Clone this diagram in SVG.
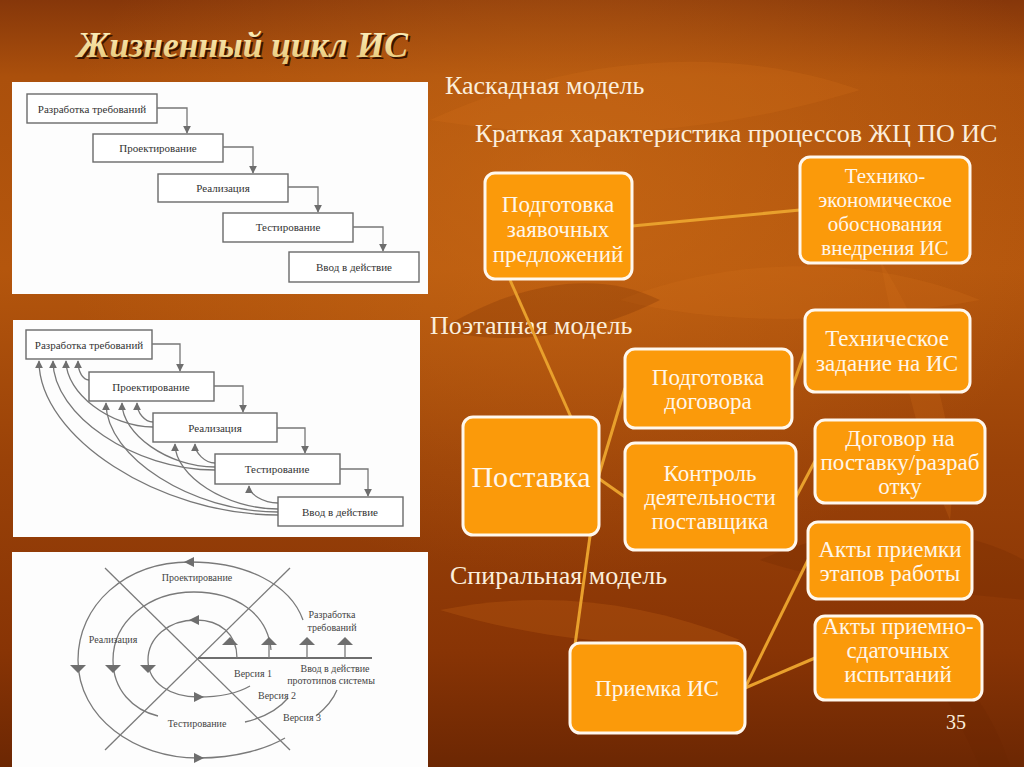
<svg xmlns="http://www.w3.org/2000/svg" width="1024" height="767" viewBox="0 0 1024 767">
<defs>
<linearGradient id="bg" x1="0" y1="0" x2="0" y2="1">
<stop offset="0" stop-color="#86370a"/>
<stop offset="0.1" stop-color="#ab500c"/>
<stop offset="0.35" stop-color="#b4560d"/>
<stop offset="0.6" stop-color="#9a4208"/>
<stop offset="0.85" stop-color="#883405"/>
<stop offset="1" stop-color="#6c2703"/>
</linearGradient>
<radialGradient id="glow" cx="0.55" cy="0.25" r="0.5">
<stop offset="0" stop-color="#d07018" stop-opacity="0.55"/>
<stop offset="1" stop-color="#d07018" stop-opacity="0"/>
</radialGradient>
<linearGradient id="titleg" x1="0" y1="0" x2="0" y2="1">
<stop offset="0" stop-color="#fff6c8"/>
<stop offset="1" stop-color="#e6c470"/>
</linearGradient>
<marker id="ga" viewBox="0 0 10 10" refX="9" refY="5" markerWidth="6" markerHeight="6" orient="auto">
<path d="M0,0 L10,5 L0,10 z" fill="#6e6e6e"/>
</marker>
<style>
text{font-family:"Liberation Serif","Times New Roman",Tinos,"DejaVu Serif","Noto Serif",serif}
.panel{fill:#fdfdfd}
.wbox{fill:#ffffff;stroke:#6a6a6a;stroke-width:1.4}
.wt{font-size:11px;fill:#333;text-anchor:middle}
.st{font-size:10px;fill:#444;text-anchor:middle}
.ga{fill:none;stroke:#777;stroke-width:1.3;marker-end:url(#ga)}
.gl{fill:none;stroke:#7a7a7a;stroke-width:1.3}
.tri{fill:#6e6e6e}
.lbl{font-size:26px;fill:#fbeedc}
.node{fill:#fb9a0a;stroke:#fff8ee;stroke-width:3}
.nt{font-size:23px;fill:#fff6ea;text-anchor:middle}
.con{stroke:#e9a02c;stroke-width:3;fill:none}
.leafL{fill:#d4741c;opacity:0.22}
.leafD{fill:#6a2400;opacity:0.22}
.ttl{font-size:36px;font-weight:bold;font-style:italic}
</style>
</defs>

<!-- background -->
<rect x="0" y="0" width="1024" height="767" fill="url(#bg)"/>
<rect x="0" y="0" width="1024" height="767" fill="url(#glow)"/>
<path class="leafL" d="M430,120 C560,60 720,40 860,90 C760,120 620,150 430,120 z"/>
<path class="leafL" d="M620,300 C720,260 860,250 980,300 C870,320 740,330 620,300 z"/>
<path class="leafD" d="M440,330 C520,280 600,270 660,300 C600,330 520,350 440,330 z"/>
<path class="leafL" d="M880,260 C930,340 960,430 950,520 C920,450 900,360 880,260 z"/>
<path class="leafD" d="M760,560 C850,520 950,520 1024,560 L1024,600 C940,590 850,590 760,560 z"/>
<path class="leafL" d="M440,610 C540,590 640,600 740,640 C640,650 540,640 440,610 z"/>
<path class="leafD" d="M900,620 C950,660 990,700 1010,767 L980,767 C960,720 930,670 900,620 z"/>

<!-- title -->
<text class="ttl" x="79" y="59" fill="#3a1400" textLength="331" lengthAdjust="spacingAndGlyphs">Жизненный цикл ИС</text>
<text class="ttl" x="77" y="57" fill="url(#titleg)" textLength="331" lengthAdjust="spacingAndGlyphs">Жизненный цикл ИС</text>

<!-- labels -->
<text class="lbl" x="445" y="94">Каскадная модель</text>
<text class="lbl" x="475" y="142">Краткая характеристика процессов ЖЦ ПО ИС</text>
<text class="lbl" x="430" y="334">Поэтапная модель</text>
<text class="lbl" x="450" y="584">Спиральная модель</text>
<text x="956" y="729" font-size="20" fill="#fbeedc" text-anchor="middle">35</text>

<!-- Waterfall model -->
<g id="waterfall">
<rect class="panel" x="12" y="82" width="416" height="212"/>
<rect class="wbox" x="27" y="94" width="130" height="29"/>
<text class="wt" x="92" y="113">Разработка требований</text>
<rect class="wbox" x="93" y="134" width="130" height="28"/>
<text class="wt" x="158" y="152">Проектирование</text>
<rect class="wbox" x="158" y="174" width="130" height="28"/>
<text class="wt" x="223" y="192">Реализация</text>
<rect class="wbox" x="223" y="213" width="130" height="29"/>
<text class="wt" x="288" y="231">Тестирование</text>
<rect class="wbox" x="289" y="252" width="130" height="30"/>
<text class="wt" x="354" y="271">Ввод в действие</text>
<path class="ga" d="M157,108 H187 V133"/>
<path class="ga" d="M223,147 H253 V173"/>
<path class="ga" d="M288,187 H318 V212"/>
<path class="ga" d="M353,227 H383 V251"/>
</g>

<!-- Incremental model -->
<g id="incremental">
<rect class="panel" x="13" y="320" width="407" height="217"/>
<path class="ga" d="M278,515 C159,515 39,437 39,361"/>
<path class="ga" d="M215,470 C134,470 53,415 53,361"/>
<path class="ga" d="M153,427 C110,427 66,393 66,361"/>
<path class="ga" d="M89,380 C83,380 78,372 78,361"/>
<path class="ga" d="M278,512 C192,512 106,457 106,403"/>
<path class="ga" d="M215,467 C168,467 122,434 122,403"/>
<path class="ga" d="M153,422 C145,422 137,413 137,403"/>
<path class="ga" d="M278,509 C226,509 175,476 175,444"/>
<path class="ga" d="M215,463 C205,463 195,453 195,444"/>
<path class="ga" d="M278,503 C263,503 249,494 249,486"/>
<rect class="wbox" x="26" y="330" width="126" height="29"/>
<text class="wt" x="89" y="349">Разработка требований</text>
<rect class="wbox" x="89" y="372" width="125" height="29"/>
<text class="wt" x="151" y="391">Проектирование</text>
<rect class="wbox" x="153" y="413" width="124" height="29"/>
<text class="wt" x="215" y="432">Реализация</text>
<rect class="wbox" x="215" y="454" width="125" height="30"/>
<text class="wt" x="277" y="473">Тестирование</text>
<rect class="wbox" x="278" y="497" width="125" height="29"/>
<text class="wt" x="340" y="516">Ввод в действие</text>
<path class="ga" d="M152,344 H180 V371"/>
<path class="ga" d="M214,386 H243 V412"/>
<path class="ga" d="M277,428 H305 V453"/>
<path class="ga" d="M340,469 H368 V496"/>
</g>

<!-- Spiral model -->
<g id="spiral">
<rect class="panel" x="12" y="552" width="416" height="215"/>
<line class="gl" x1="105" y1="568" x2="290" y2="750"/>
<line class="gl" x1="105" y1="750" x2="290" y2="568"/>
<line x1="198" y1="658" x2="372" y2="658" stroke="#6e6e6e" stroke-width="2.2"/>
<path class="gl" d="M237,658 C237,634 220,620 196,620 C168,620 148,638 148,660 C148,684 172,697 198,697 C220,697 238,693 250,686"/>
<path class="gl" d="M271,650 C268,614 236,592 194,592 C148,592 113,622 113,660 C113,690 133,710 158,716"/>
<path class="gl" d="M245,722 C262,718 278,710 288,698"/>
<path class="gl" d="M303,620 C290,584 246,562 190,562 C125,562 78,605 78,660 C78,718 135,758 198,758 C238,758 268,748 285,738"/>
<path class="gl" d="M316,716 C326,708 333,700 337,690"/>
<path class="tri" d="M184,562 L194,557 L194,567 z"/>
<path class="tri" d="M189,620 L199,615 L199,625 z"/>
<path class="tri" d="M70,665 L86,665 L78,673 z"/>
<path class="tri" d="M105,665 L121,665 L113,673 z"/>
<path class="tri" d="M140,665 L156,665 L148,673 z"/>
<path class="tri" d="M204,697 L194,692 L194,702 z"/>
<path class="tri" d="M204,758 L194,753 L194,763 z"/>
<line class="gl" x1="269" y1="645" x2="269" y2="658"/>
<line class="gl" x1="307" y1="645" x2="307" y2="658"/>
<line class="gl" x1="345" y1="645" x2="345" y2="658"/>
<path class="tri" d="M222,645 L238,645 L230,637 z"/>
<path class="tri" d="M261,645 L277,645 L269,637 z"/>
<path class="tri" d="M299,645 L315,645 L307,637 z"/>
<path class="tri" d="M337,645 L353,645 L345,637 z"/>
<text class="st" x="197" y="581">Проектирование</text>
<text class="st" x="332" y="618">Разработка</text>
<text class="st" x="332" y="631">требований</text>
<text class="st" x="113" y="643">Реализация</text>
<text class="st" x="253" y="677">Версия 1</text>
<text class="st" x="335" y="672">Ввод в действие</text>
<text class="st" x="331" y="684">прототипов системы</text>
<text class="st" x="277" y="699">Версия 2</text>
<text class="st" x="197" y="727">Тестирование</text>
<text class="st" x="302" y="721">Версия 3</text>
</g>

<!-- connectors -->
<g id="connectors">
<line class="con" x1="632" y1="226" x2="800" y2="210"/>
<line class="con" x1="510" y1="280" x2="598" y2="478"/>
<line class="con" x1="598" y1="478" x2="625" y2="388"/>
<line class="con" x1="598" y1="478" x2="625" y2="497"/>
<line class="con" x1="598" y1="478" x2="575" y2="645"/>
<line class="con" x1="792" y1="388" x2="805" y2="351"/>
<line class="con" x1="796" y1="497" x2="815" y2="461"/>
<line class="con" x1="745" y1="688" x2="808" y2="560"/>
<line class="con" x1="745" y1="688" x2="815" y2="658"/>
</g>

<!-- nodes -->
<g id="n-zayav">
<rect class="node" x="485" y="173" width="147" height="106" rx="10"/>
<text class="nt" x="558" y="212">Подготовка</text>
<text class="nt" x="558" y="237">заявочных</text>
<text class="nt" x="558" y="262">предложений</text>
</g>
<g id="n-teo">
<rect class="node" x="800" y="157" width="170" height="106" rx="10"/>
<text class="nt" x="885" y="183" style="font-size:21px">Технико-</text>
<text class="nt" x="885" y="207" style="font-size:21px">экономическое</text>
<text class="nt" x="885" y="231" style="font-size:21px">обоснования</text>
<text class="nt" x="885" y="255" style="font-size:21px">внедрения ИС</text>
</g>
<g id="n-tz">
<rect class="node" x="805" y="310" width="165" height="82" rx="10"/>
<text class="nt" x="887" y="346">Техническое</text>
<text class="nt" x="887" y="371">задание на ИС</text>
</g>
<g id="n-dogprep">
<rect class="node" x="625" y="349" width="167" height="79" rx="10"/>
<text class="nt" x="708" y="385">Подготовка</text>
<text class="nt" x="708" y="409">договора</text>
</g>
<g id="n-postavka">
<rect class="node" x="463" y="417" width="136" height="118" rx="10"/>
<text class="nt" x="531" y="487" style="font-size:30px">Поставка</text>
</g>
<g id="n-kontrol">
<rect class="node" x="625" y="443" width="171" height="107" rx="10"/>
<text class="nt" x="710" y="481">Контроль</text>
<text class="nt" x="710" y="505">деятельности</text>
<text class="nt" x="710" y="529">поставщика</text>
</g>
<g id="n-dogovor">
<rect class="node" x="815" y="420" width="170" height="83" rx="10"/>
<text class="nt" x="900" y="446">Договор на</text>
<text class="nt" x="900" y="470">поставку/разраб</text>
<text class="nt" x="900" y="494">отку</text>
</g>
<g id="n-akty1">
<rect class="node" x="808" y="522" width="164" height="77" rx="10"/>
<text class="nt" x="890" y="557">Акты приемки</text>
<text class="nt" x="890" y="581">этапов работы</text>
</g>
<g id="n-akty2">
<rect class="node" x="815" y="616" width="167" height="84" rx="10"/>
<text class="nt" x="898" y="634">Акты приемно-</text>
<text class="nt" x="898" y="658">сдаточных</text>
<text class="nt" x="898" y="682">испытаний</text>
</g>
<g id="n-priemka">
<rect class="node" x="570" y="643" width="175" height="90" rx="10"/>
<text class="nt" x="657" y="696">Приемка ИС</text>
</g>
</svg>
